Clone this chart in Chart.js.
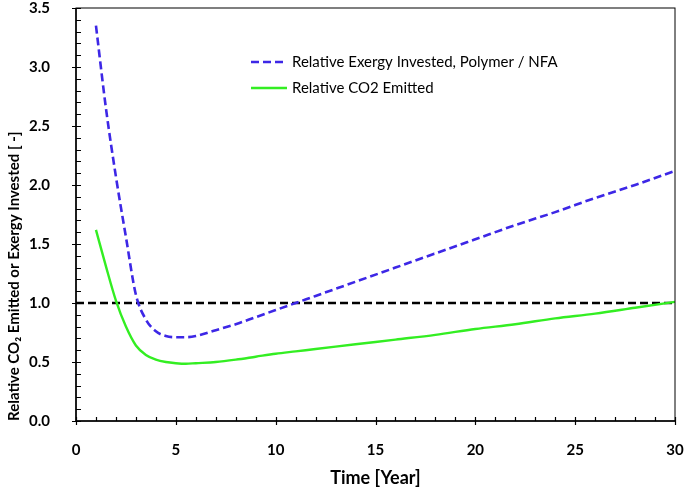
<!DOCTYPE html>
<html>
<head>
<meta charset="utf-8">
<script src="https://cdn.jsdelivr.net/npm/chart.js@4.4.1/dist/chart.umd.min.js"></script>
<style>
    body { margin: 0; background: #fff; }
    #wrap { width: 685px; height: 490px; }
</style>
</head>
<body>
<div id="wrap"><canvas id="co2Chart"></canvas></div>
<script>
// values
const years = [1, 1.5, 2, 2.5, 3, 3.5, 4, 4.5, 5, 5.5, 6, 7, 8, 9, 10, 11, 12, 14, 16, 18, 20, 22, 24, 26, 28, 30]
const exergy = [3.35, 2.65, 2.07, 1.56, 1.07, 0.86, 0.76, 0.72, 0.71, 0.71, 0.72, 0.77, 0.82, 0.88, 0.94, 1.0, 1.06, 1.18, 1.30, 1.42, 1.54, 1.66, 1.77, 1.89, 2.0, 2.12]
const co2 = [1.62, 1.31, 1.02, 0.8, 0.64, 0.56, 0.52, 0.5, 0.49, 0.485, 0.49, 0.5, 0.52, 0.545, 0.57, 0.59, 0.61, 0.65, 0.69, 0.73, 0.78, 0.82, 0.87, 0.91, 0.96, 1.01]
const refYears = [0, 30]
const refLevel = [1, 1]
const seriesNames = ['Relative Exergy Invested, Polymer / NFA', 'Relative CO2 Emitted']

const toPoints = (xs, ys) => xs.map((x, i) => ({ x: x, y: ys[i] }))

// inward ticks + box frame, like the original plot
const frameTicks = {
    id: 'frameTicks',
    afterDraw(chart) {
        const { ctx, chartArea: a, scales: { x, y } } = chart
        ctx.save()
        ctx.strokeStyle = '#000'
        ctx.lineWidth = 1
        ctx.strokeRect(a.left, a.top, a.right - a.left, a.bottom - a.top)
        ctx.lineWidth = 1.5
        ctx.beginPath()
        ctx.moveTo(a.left, a.top); ctx.lineTo(a.left, a.bottom); ctx.lineTo(a.right, a.bottom)
        ctx.stroke()
        ctx.lineWidth = 1.2
        ctx.beginPath()
        for (let i = 0; i <= 35; i++) {
            const py = Math.round(y.getPixelForValue(i / 10)) + 0.5
            const major = i % 5 === 0
            ctx.moveTo(a.left - (major ? 4 : 0), py)
            ctx.lineTo(a.left + 5, py)
        }
        for (let i = 0; i <= 30; i++) {
            const px = Math.round(x.getPixelForValue(i)) + 0.5
            const major = i % 5 === 0
            ctx.moveTo(px, a.bottom + (major ? 4 : 0))
            ctx.lineTo(px, a.bottom - 4)
        }
        ctx.stroke()
        ctx.restore()
    }
}

// legend sits inside the plot area
const innerLegend = {
    id: 'innerLegend',
    afterDatasetsDraw(chart) {
        const ctx = chart.ctx
        ctx.save()
        ctx.font = '15px Lato'
        ctx.textBaseline = 'middle'
        ctx.fillStyle = '#000'
        const rows = [62, 88]
        rows.forEach((ry, i) => {
            const ds = chart.data.datasets[i]
            ctx.strokeStyle = ds.borderColor
            ctx.lineWidth = ds.borderWidth
            ctx.setLineDash(ds.borderDash || [])
            ctx.beginPath()
            ctx.moveTo(251, ry)
            ctx.lineTo(287, ry)
            ctx.stroke()
            ctx.setLineDash([])
            ctx.fillText(seriesNames[i], 292, ry)
        })
        ctx.restore()
    }
}

const config = {
    type: 'line',
    data: {
        datasets: [{
            label: seriesNames[0],
            data: toPoints(years, exergy),
            borderColor: '#3d27e6',
            borderWidth: 2.6,
            borderDash: [8, 4],
            pointRadius: 0,
            cubicInterpolationMode: 'monotone',
        }, {
            label: seriesNames[1],
            data: toPoints(years, co2),
            borderColor: '#33ee22',
            borderWidth: 2.4,
            pointRadius: 0,
            cubicInterpolationMode: 'monotone',
        }, {
            label: 'ref',
            data: toPoints(refYears, refLevel),
            borderColor: '#000',
            borderWidth: 2.4,
            borderDash: [8, 4],
            pointRadius: 0,
        }]
    },
    options: {
        responsive: true,
        maintainAspectRatio: false,
        animation: false,
        layout: { padding: 0 },
        scales: {
            x: {
                type: 'linear',
                min: 0,
                max: 30,
                grid: { display: false },
                border: { display: false },
                afterFit: (s) => {
                    s.height = 69
                    s.paddingLeft = 0
                    s.paddingRight = 10
                },
                ticks: {
                    stepSize: 5,
                    padding: 12,
                    color: '#000',
                    font: { family: 'Lato', size: 15, weight: 'bold' }
                },
                title: {
                    display: true,
                    text: 'Time [Year]',
                    color: '#000',
                    padding: { top: 0, bottom: 1 },
                    font: { family: 'Lato', size: 18, weight: 'bold' }
                }
            },
            y: {
                min: 0,
                max: 3.5,
                grid: { display: false },
                border: { display: false },
                afterFit: (s) => {
                    s.width = 76
                    s.paddingTop = 8
                    s.paddingBottom = 0
                },
                ticks: {
                    stepSize: 0.5,
                    padding: 18,
                    color: '#000',
                    font: { family: 'Lato', size: 15, weight: 'bold' },
                    callback: (value) => value.toFixed(1)
                },
                title: {
                    display: true,
                    text: 'Relative CO\u2082 Emitted or Exergy Invested [ -]',
                    align: 'start',
                    color: '#000',
                    padding: { top: 5, bottom: 0 },
                    font: { family: 'Lato', size: 15, weight: 'bold' }
                }
            }
        },
        plugins: {
            legend: { display: false },
            tooltip: { enabled: false }
        }
    },
    plugins: [frameTicks, innerLegend]
}

const ctx = document.getElementById('co2Chart').getContext('2d')
new Chart(ctx, config)
</script>
</body>
</html>
